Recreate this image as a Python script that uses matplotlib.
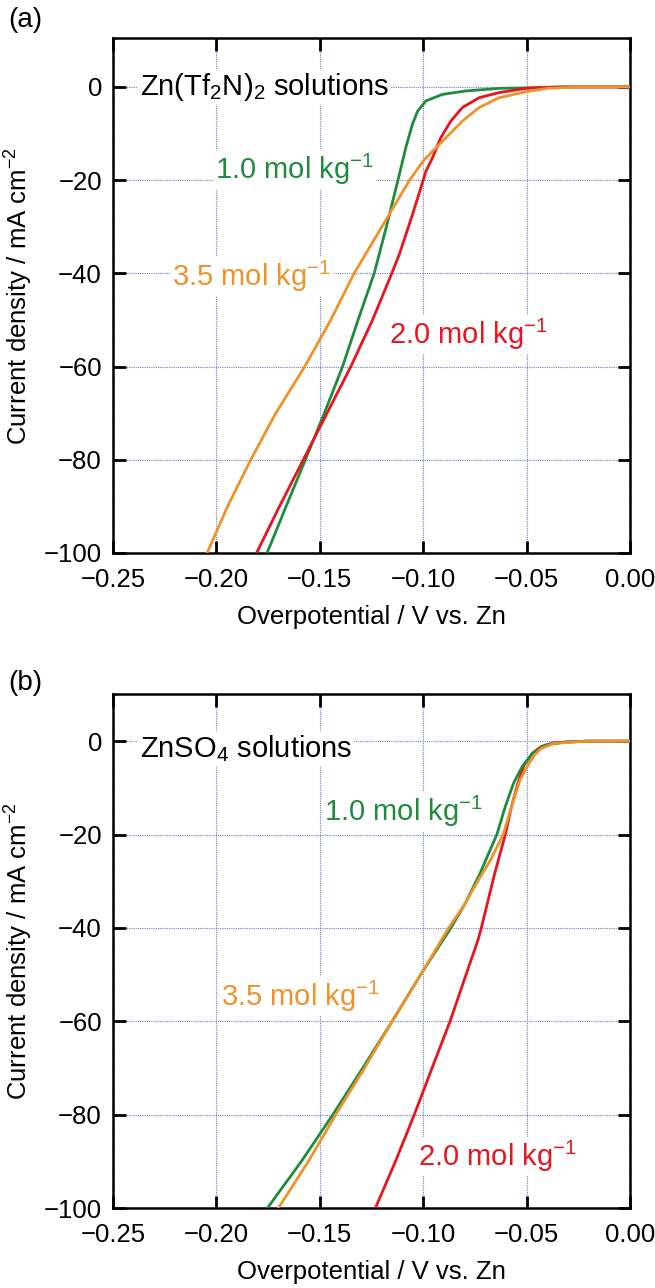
import matplotlib
matplotlib.use("Agg")
import matplotlib.pyplot as plt

plt.rcParams['font.family'] = ['Liberation Sans', 'DejaVu Sans']
plt.rcParams['mathtext.fontset'] = 'custom'
plt.rcParams['mathtext.rm'] = 'Liberation Sans'
plt.rcParams['mathtext.it'] = 'Liberation Sans:italic'
plt.rcParams['mathtext.bf'] = 'Liberation Sans:bold'

# ---------------- data: panel (a) Zn(Tf2N)2 ----------------
a_green_x = [0.000, -0.030, -0.040, -0.050, -0.0632, -0.0794, -0.0907, -0.0987, -0.1027,
             -0.1052, -0.1084, -0.1122, -0.1178, -0.1237,
             -0.1315, -0.1390, -0.1478, -0.1570, -0.1663, -0.1755]
a_green_y = [0.0, 0.0, -0.1, -0.2, -0.3, -0.86, -1.6, -3.0, -5.2,
             -8.0, -13.0, -20.0, -30.0, -40.0,
             -50.0, -60.0, -70.0, -80.0, -90.0, -100.0]

a_red_x = [0.000, -0.035, -0.050, -0.0632, -0.0729, -0.0810, -0.0866, -0.0915, -0.0955,
           -0.0987, -0.1011, -0.1052, -0.1084, -0.1116, -0.1152,
           -0.1245, -0.1350, -0.1465, -0.1580, -0.1695, -0.1806]
a_red_y = [0.0, 0.0, -0.3, -1.2, -2.3, -4.4, -7.3, -10.9, -15.2,
           -18.1, -21.6, -27.4, -31.7, -36.0, -40.0,
           -50.0, -60.0, -70.0, -80.0, -90.0, -100.0]

a_orange_x = [0.000, -0.025, -0.040, -0.050, -0.0632, -0.0729, -0.0810, -0.0890, -0.0955,
              -0.1000, -0.1066, -0.1200, -0.1334, -0.1447, -0.1573, -0.1713,
              -0.1834, -0.1946, -0.2045]
a_orange_y = [0.0, 0.0, -0.3, -1.0, -2.3, -4.4, -7.3, -10.9, -13.8,
              -15.9, -20.0, -30.0, -40.0, -50.0, -60.0, -70.0,
              -80.0, -90.0, -100.0]

# ---------------- data: panel (b) ZnSO4 ----------------
b_green_x = [0.000, -0.0209, -0.031, -0.0411, -0.0472, -0.0522, -0.0563, -0.0603, -0.0644,
             -0.0725, -0.0796, -0.0866, -0.0998, -0.1150, -0.1292, -0.1437, -0.1589, -0.1753]
b_green_y = [0.0, 0.0, -0.15, -0.85, -2.6, -5.5, -9.0, -14.0, -20.0,
             -28.3, -34.7, -40.0, -49.0, -60.0, -70.0, -80.0, -90.0, -100.0]

b_red_x = [0.000, -0.0209, -0.037, -0.0431, -0.0472, -0.0512, -0.0542, -0.0573, -0.0603,
           -0.0654, -0.0719, -0.0735, -0.0785, -0.0870, -0.0957, -0.1043, -0.1134, -0.1231]
b_red_y = [0.0, 0.0, -0.36, -1.2, -2.6, -5.1, -9.0, -14.0, -20.0,
           -28.3, -40.0, -42.6, -49.0, -60.0, -70.0, -80.0, -90.0, -100.0]

b_orange_x = [0.000, -0.0209, -0.037, -0.0431, -0.0462, -0.0492, -0.0532, -0.0573, -0.0613,
              -0.0674, -0.0735, -0.0806, -0.0877, -0.0998, -0.1150, -0.1283, -0.1423,
              -0.1555, -0.1700]
b_orange_y = [0.0, 0.0, -0.5, -1.6, -3.0, -5.0, -8.3, -14.0, -20.0,
              -25.4, -29.9, -35.4, -40.0, -49.0, -60.0, -70.0, -80.0,
              -90.0, -100.0]

x_ticks = [-0.25, -0.20, -0.15, -0.10, -0.05, 0.00]
x_ticklabels = ['\u22120.25', '\u22120.20', '\u22120.15', '\u22120.10', '\u22120.05', '0.00']
y_ticks = [0, -20, -40, -60, -80, -100]
y_ticklabels = ['0', '\u221220', '\u221240', '\u221260', '\u221280', '\u2212100']

conc_labels = ['1.0 mol kg$^{\u22121}$', '2.0 mol kg$^{\u22121}$', '3.5 mol kg$^{\u22121}$']
titles = ['Zn(Tf$_2$N)$_2$ solutions', 'ZnSO$_4$ solutions']
panel_tags = ['(a)', '(b)']

GREEN = '#1e8c3c'
RED = '#e8141e'
ORANGE = '#f0922a'
GRID = '#6f7fc8'

FS = 18.5     # ticks and axis labels
FS_ANN = 21   # annotations
FS_TAG = 20

fig = plt.figure(figsize=(6.55, 12.88), dpi=100)
W, H = 655.0, 1288.0

def make_ax(top_px, bottom_px):
    left, right = 113.0, 630.0
    return fig.add_axes([left / W, 1 - bottom_px / H, (right - left) / W, (bottom_px - top_px) / H])

axA = make_ax(38, 553)
axB = make_ax(694, 1208)

def style(ax):
    ax.set_xlim(-0.25, 0.0)
    ax.set_ylim(-100, 10.5)
    ax.set_xticks(x_ticks)
    ax.set_xticklabels(x_ticklabels)
    ax.set_yticks(y_ticks)
    ax.set_yticklabels(y_ticklabels)
    ax.tick_params(direction='in', length=9, width=2, top=True, right=True,
                   labelsize=FS, pad=8)
    ax.tick_params(axis='x', pad=11)
    for s in ax.spines.values():
        s.set_linewidth(1.8)
    ax.grid(True, color=GRID, linestyle=(0, (1, 1)), linewidth=0.8)
    ax.set_axisbelow(True)
    ax.set_xlabel('Overpotential / V vs. Zn', fontsize=FS, labelpad=9)
    ax.set_ylabel('Current density / mA cm$^{\u22122}$', fontsize=FS, labelpad=6)

style(axA)
style(axB)
axB.set_ylim(-100, 10.1)

lw = 2.0
axA.plot(a_green_x, a_green_y, color=GREEN, lw=lw, zorder=3)
axA.plot(a_red_x, a_red_y, color=RED, lw=lw, zorder=3)
axA.plot(a_orange_x, a_orange_y, color=ORANGE, lw=lw, zorder=4)

axB.plot(b_red_x, b_red_y, color=RED, lw=lw, zorder=3)
axB.plot(b_green_x, b_green_y, color=GREEN, lw=lw, zorder=3)
axB.plot(b_orange_x, b_orange_y, color=ORANGE, lw=lw, zorder=4)

bbox = dict(facecolor='white', edgecolor='none', pad=1.5)

axA.text(-0.237, 0, titles[0], fontsize=FS_ANN, va='center', ha='left', bbox=bbox, zorder=5)
axA.text(-0.2005, -17.6, conc_labels[0], color=GREEN, fontsize=FS_ANN, va='center', ha='left', bbox=bbox, zorder=5)
axA.text(-0.2215, -40.6, conc_labels[2], color=ORANGE, fontsize=FS_ANN, va='center', ha='left', bbox=bbox, zorder=5)
axA.text(-0.1165, -53.1, conc_labels[1], color=RED, fontsize=FS_ANN, va='center', ha='left', bbox=bbox, zorder=5)

axB.text(-0.237, -1.5, titles[1], fontsize=FS_ANN, va='center', ha='left', bbox=bbox, zorder=5)
axB.text(-0.148, -15.0, conc_labels[0], color=GREEN, fontsize=FS_ANN, va='center', ha='left', bbox=bbox, zorder=5)
axB.text(-0.198, -54.6, conc_labels[2], color=ORANGE, fontsize=FS_ANN, va='center', ha='left', bbox=bbox, zorder=5)
axB.text(-0.1025, -88.9, conc_labels[1], color=RED, fontsize=FS_ANN, va='center', ha='left', bbox=bbox, zorder=5)

fig.text(8 / W, 1 - 20 / H, panel_tags[0], fontsize=FS_TAG, va='center', ha='left')
fig.text(8 / W, 1 - 683 / H, panel_tags[1], fontsize=FS_TAG, va='center', ha='left')

fig.savefig('out.png', dpi=100)
